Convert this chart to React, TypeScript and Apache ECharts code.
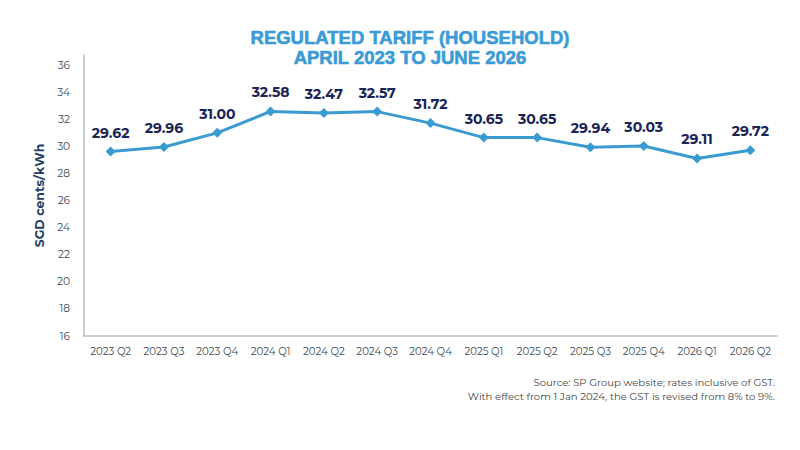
import { useEffect, useRef } from 'react'
import * as echarts from 'echarts'

const quarters = [
  '2023 Q2', '2023 Q3', '2023 Q4', '2024 Q1', '2024 Q2', '2024 Q3', '2024 Q4',
  '2025 Q1', '2025 Q2', '2025 Q3', '2025 Q4', '2026 Q1', '2026 Q2',
]
const tariff = [29.62, 29.96, 31.0, 32.58, 32.47, 32.57, 31.72, 30.65, 30.65, 29.94, 30.03, 29.11, 29.72]

const titleLines = ['REGULATED TARIFF (HOUSEHOLD)', 'APRIL 2023 TO JUNE 2026']
const sourceLines = [
  'Source: SP Group website; rates inclusive of GST.',
  'With effect from 1 Jan 2024, the GST is revised from 8% to 9%.',
]

const font = 'Montserrat, "Open Sans", "Noto Sans", sans-serif'

export default function App() {
  const chartRef = useRef<HTMLDivElement | null>(null)

  useEffect(() => {
    if (!chartRef.current) {
      return
    }

    const chart = echarts.init(chartRef.current, undefined, { renderer: 'svg' })
    chart.setOption({
      animation: false,
      backgroundColor: '#ffffff',
      title: {
        text: titleLines.join('\n'),
        left: 405,
        textAlign: 'center',
        top: 22,
        textStyle: {
          color: '#3b9bd6',
          fontSize: 18.5,
          fontWeight: 900,
          fontFamily: '"Liberation Sans", Arial, sans-serif',
          lineHeight: 20,
          textBorderColor: '#3b9bd6',
          textBorderWidth: 0.6,
        },
      },
      grid: { top: 55, right: 23, bottom: 114, left: 84 },
      xAxis: {
        type: 'category',
        boundaryGap: true,
        data: quarters,
        axisLine: { lineStyle: { color: '#bdbdbd', width: 1.5 } },
        axisTick: { show: false },
        axisLabel: { color: '#3d4a57', fontSize: 10.2, fontFamily: font, margin: 10, interval: 0 },
      },
      yAxis: {
        type: 'value',
        min: 16,
        max: 36.75,
        interval: 2,
        name: 'SGD cents/kWh',
        nameLocation: 'middle',
        nameGap: 34,
        nameTextStyle: { color: '#1f3f66', fontSize: 12.5, fontWeight: 'bold', fontFamily: font },
        axisLine: { show: true, lineStyle: { color: '#bdbdbd', width: 1.5 } },
        axisTick: { show: false },
        splitLine: { show: false },
        axisLabel: {
          color: '#3d4a57',
          fontSize: 10.5,
          fontFamily: font,
          margin: 14,
          showMaxLabel: false,
        },
      },
      series: [
        {
          type: 'line',
          data: tariff,
          color: '#3a9bd0',
          lineStyle: { width: 3, color: '#3a9bd0' },
          symbol: 'diamond',
          symbolSize: 10,
          itemStyle: { color: '#3a9bd0' },
          label: {
            show: true,
            position: 'top',
            distance: 7,
            color: '#1b2457',
            fontSize: 14,
            fontWeight: 'bold',
            fontFamily: font,
            formatter: (p: { value: number }) => p.value.toFixed(2),
          },
        },
      ],
      graphic: sourceLines.map((line, i) => ({
        type: 'text',
        right: 25,
        top: 377 + i * 14,
        style: {
          text: line,
          fill: '#444444',
          fontSize: 10.1,
          fontFamily: font,
          textAlign: 'right',
        },
      })),
    })

    return () => {
      chart.dispose()
    }
  }, [])

  return (
    <div
      ref={chartRef}
      style={{ position: 'fixed', left: 0, top: 0, width: 800, height: 450 }}
    />
  )
}
